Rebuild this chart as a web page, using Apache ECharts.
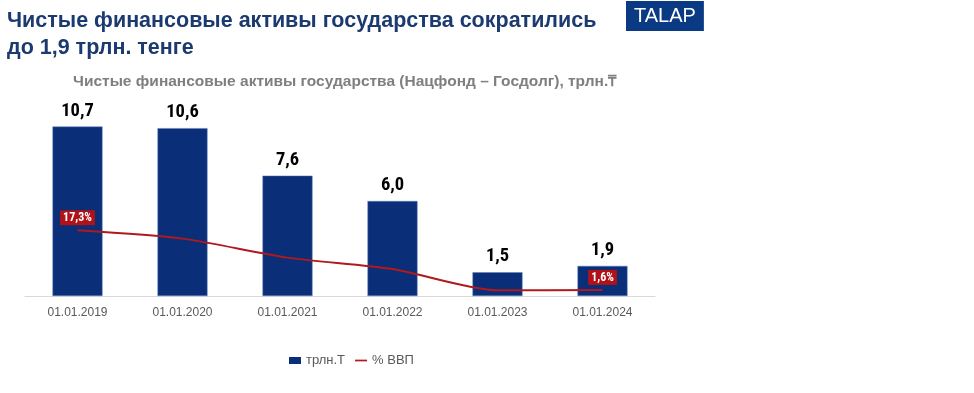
<!DOCTYPE html>
<html>
<head>
<meta charset="utf-8">
<script src="https://cdn.jsdelivr.net/npm/echarts@6/dist/echarts.min.js"></script>
<style>
html,body{margin:0;padding:0;background:#fff;}
#c{width:974px;height:393px;}
</style>
</head>
<body>
<div id="c"></div>
<script>
const categories = ['01.01.2019','01.01.2020','01.01.2021','01.01.2022','01.01.2023','01.01.2024'];
const assetsTrln = [10.7, 10.6, 7.6, 6.0, 1.5, 1.9];
const pctGdp = [17.3, 15.1, 10.1, 7.1, 1.5, 1.6];
const pctLabelShown = [true, false, false, false, false, true];
const seriesNames = ['трлн.Т', '% ВВП'];

const NARROW = "'Roboto Condensed','Liberation Sans',sans-serif";
const ARIAL = "'Liberation Sans',Arial,sans-serif";
const chart = echarts.init(document.getElementById('c'));
chart.setOption({
  animation: false,
  backgroundColor: '#fff',
  title: [
    {text: 'Чистые финансовые активы государства сократились\nдо 1,9 трлн. тенге', left: 2, top: 3,
     textStyle: {fontFamily: ARIAL, fontSize: 21.5, fontWeight: 'bold', color: '#1b3a6f', lineHeight: 27}},
    {text: 'TALAP', left: 626, top: 1, padding: [4, 8, 4, 8], backgroundColor: '#0b3a85',
     textStyle: {fontFamily: ARIAL, fontSize: 20, fontWeight: 'normal', color: '#fff', lineHeight: 22}},
    {text: 'Чистые финансовые активы государства (Нацфонд – Госдолг), трлн.₸', left: 68, top: 69,
     textStyle: {fontFamily: ARIAL, fontSize: 15.5, fontWeight: 'bold', color: '#7f7f7f'}}
  ],
  legend: {
    top: 349, left: 284,
    itemWidth: 12, itemHeight: 7, itemGap: 10, symbolKeepAspect: true,
    itemStyle: {borderWidth: 0},
    textStyle: {fontFamily: ARIAL, fontSize: 13, color: '#595959'},
    data: [{name: seriesNames[0], icon: 'rect'},
           {name: seriesNames[1], icon: 'path://M0,0 L14,0 L14,2 L0,2 Z'}]
  },
  grid: {left: 25, right: 974 - 655, top: 106, bottom: 97, containLabel: false},
  xAxis: {
    type: 'category', data: categories,
    axisLine: {lineStyle: {color: '#d9d9d9', width: 1}},
    axisTick: {show: false},
    axisLabel: {fontFamily: ARIAL, fontSize: 12, color: '#595959', margin: 11}
  },
  yAxis: [
    {type: 'value', min: 0, max: 12, show: false, splitLine: {show: false}},
    {type: 'value', min: 0, max: 50, show: false, splitLine: {show: false}}
  ],
  series: [
    {
      name: seriesNames[0], type: 'bar', data: assetsTrln, barWidth: 50, yAxisIndex: 0,
      itemStyle: {color: '#0a2e78', borderColor: '#5b7fb8', borderWidth: 0.5},
      label: {show: true, position: 'top', distance: 6, fontFamily: NARROW, fontSize: 18.5, fontWeight: 'bold', color: '#000',
              formatter: p => p.value.toFixed(1).replace('.', ',')}
    },
    {
      name: seriesNames[1], type: 'line', yAxisIndex: 1, smooth: 0.25,
      symbol: 'circle', symbolSize: 0.1, showSymbol: true,
      lineStyle: {color: '#b0191e', width: 2}, itemStyle: {color: '#b0191e'},
      data: pctGdp.map((v, i) => ({
        value: v,
        label: {show: pctLabelShown[i]}
      })),
      label: {position: 'top', distance: 5, fontFamily: NARROW, fontSize: 12, fontWeight: 'bold', color: '#fff',
              backgroundColor: '#b01217', padding: [2, 3, 1, 3],
              formatter: p => p.value.toFixed(1).replace('.', ',') + '%'}
    }
  ]
});
</script>
</body>
</html>
